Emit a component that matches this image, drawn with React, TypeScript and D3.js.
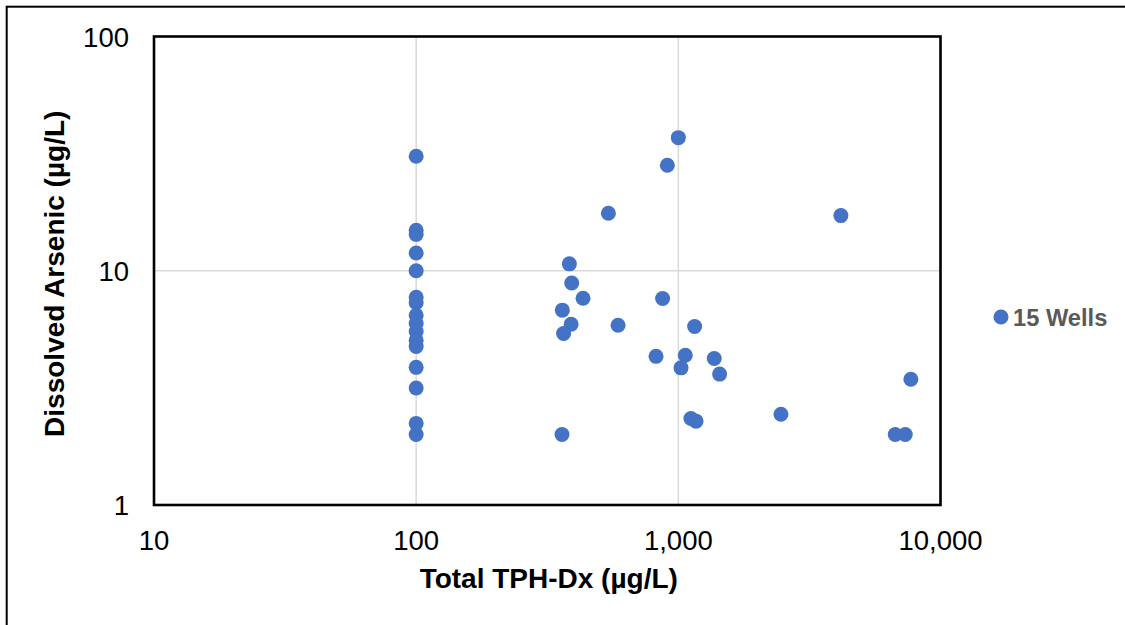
import React, { useEffect, useRef } from "react";
import * as d3 from "d3";

// Total TPH-Dx (µg/L) and dissolved arsenic (µg/L)
const tphValues = [
  100, 100, 100, 100, 100, 100, 100, 100, 100, 100, 100, 100, 100, 100, 100, 100,
  1000, 908, 541, 384, 392, 433, 871, 361, 390, 365, 589, 1154, 822, 1063, 1371,
  1024, 1437, 1117, 1168, 360, 4170, 7709, 2463, 6720, 7337,
];
const arsenicValues = [
  30.8, 14.9, 14.3, 11.9, 10.0, 7.7, 7.3, 6.45, 5.95, 5.5, 5.05, 4.75, 3.87, 3.16, 2.23, 2.0,
  37.0, 28.2, 17.6, 10.7, 8.87, 7.63, 7.61, 6.79, 5.91, 5.4, 5.85, 5.78, 4.31, 4.36, 4.22,
  3.85, 3.62, 2.34, 2.28, 2.0, 17.2, 3.44, 2.44, 2.0, 2.0,
];
const xTicks = [10, 100, 1000, 10000];
const yTicks = [1, 10, 100];
const seriesName = "15 Wells";
const xTitle = "Total TPH-Dx (µg/L)";
const yTitle = "Dissolved Arsenic (µg/L)";

const W = 1125;
const H = 625;
const plot = { left: 154, right: 940.5, top: 36.5, bottom: 505 };
const blue = "#4472C4";
const font = "'Liberation Sans', Arial, sans-serif";

const App = () => {
  const svgRef = useRef<SVGSVGElement>(null);

  useEffect(() => {
    const svg = d3.select(svgRef.current);
    svg.selectAll("*").remove();

    const x = d3.scaleLog().domain([10, 10000]).range([plot.left, plot.right]);
    const y = d3.scaleLog().domain([1, 100]).range([plot.bottom, plot.top]);

    svg.append("rect").attr("width", W).attr("height", H).attr("fill", "#fff");

    // outer chart border (runs off the right and bottom of the picture)
    svg
      .append("rect")
      .attr("x", 6.7)
      .attr("y", 6.7)
      .attr("width", W + 20)
      .attr("height", H + 20)
      .attr("fill", "none")
      .attr("stroke", "#000")
      .attr("stroke-width", 2);

    // gridlines
    const grid = svg.append("g").attr("stroke", "#D9D9D9").attr("stroke-width", 1.5);
    grid
      .selectAll("line.gx")
      .data(xTicks.slice(1, -1))
      .enter()
      .append("line")
      .attr("x1", (d) => x(d))
      .attr("x2", (d) => x(d))
      .attr("y1", plot.top)
      .attr("y2", plot.bottom);
    grid
      .selectAll("line.gy")
      .data(yTicks.slice(1, -1))
      .enter()
      .append("line")
      .attr("y1", (d) => y(d))
      .attr("y2", (d) => y(d))
      .attr("x1", plot.left)
      .attr("x2", plot.right);

    // plot frame
    svg
      .append("rect")
      .attr("x", plot.left)
      .attr("y", plot.top)
      .attr("width", plot.right - plot.left)
      .attr("height", plot.bottom - plot.top)
      .attr("fill", "none")
      .attr("stroke", "#000")
      .attr("stroke-width", 2.6);

    // tick labels
    const fmt = d3.format(",");
    svg
      .selectAll("text.xt")
      .data(xTicks)
      .enter()
      .append("text")
      .attr("x", (d) => x(d))
      .attr("y", 550)
      .attr("text-anchor", "middle")
      .attr("font-family", font)
      .attr("font-size", 27.5)
      .attr("fill", "#000")
      .text((d) => fmt(d));
    svg
      .selectAll("text.yt")
      .data(yTicks)
      .enter()
      .append("text")
      .attr("x", 129)
      .attr("y", (d) => y(d) + 10)
      .attr("text-anchor", "end")
      .attr("font-family", font)
      .attr("font-size", 27.5)
      .attr("fill", "#000")
      .text((d) => fmt(d));

    // axis titles
    svg
      .append("text")
      .attr("x", (plot.left + plot.right) / 2 + 1.5)
      .attr("y", 588)
      .attr("text-anchor", "middle")
      .attr("font-family", font)
      .attr("font-weight", "bold")
      .attr("font-size", 28)
      .attr("fill", "#000")
      .text(xTitle);
    svg
      .append("text")
      .attr("transform", `translate(64, ${(plot.top + plot.bottom) / 2 + 3}) rotate(-90)`)
      .attr("text-anchor", "middle")
      .attr("font-family", font)
      .attr("font-weight", "bold")
      .attr("font-size", 28)
      .attr("fill", "#000")
      .text(yTitle);

    // points
    svg
      .append("g")
      .selectAll("circle")
      .data(tphValues.map((t, i) => [t, arsenicValues[i]]))
      .enter()
      .append("circle")
      .attr("cx", (d) => x(d[0]))
      .attr("cy", (d) => y(d[1]))
      .attr("r", 7.5)
      .attr("fill", blue);

    // legend
    const legend = svg.append("g").attr("transform", "translate(1001, 317)");
    legend.append("circle").attr("r", 7.5).attr("fill", blue);
    legend
      .append("text")
      .attr("x", 12)
      .attr("y", 9)
      .attr("font-family", font)
      .attr("font-weight", "bold")
      .attr("font-size", 23.7)
      .attr("fill", "#595959")
      .text(seriesName);
  }, []);

  return (
    <svg
      ref={svgRef}
      width={W}
      height={H}
      style={{ position: "absolute", left: 0, top: 0, display: "block" }}
    ></svg>
  );
};

export default App;
